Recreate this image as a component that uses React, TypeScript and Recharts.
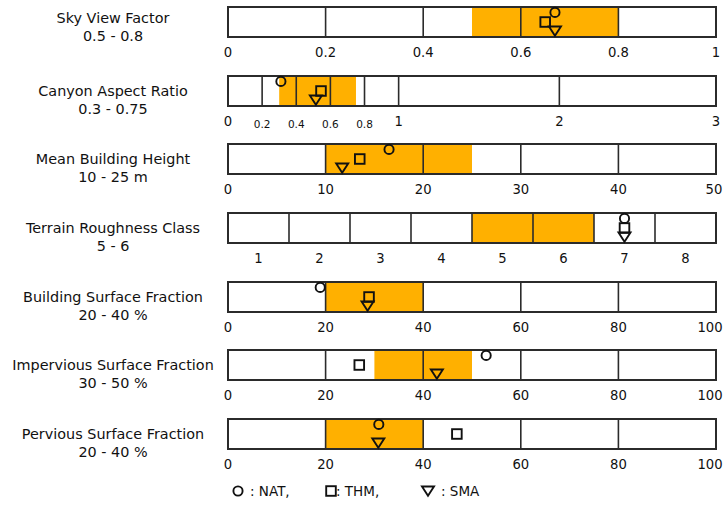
import React from 'react';
import {
  ScatterChart,
  Scatter,
  XAxis,
  YAxis,
  ReferenceArea,
  ReferenceLine,
} from 'recharts';

/**
 * LCZ parameter ranges vs. values of three sites (NAT, THM, SMA)
 */

const ROW_TITLES = [
  'Sky View Factor',
  'Canyon Aspect Ratio',
  'Mean Building Height',
  'Terrain Roughness Class',
  'Building Surface Fraction',
  'Impervious Surface Fraction',
  'Pervious Surface Fraction',
];
const ROW_RANGE_TEXT = ['0.5 - 0.8', '0.3 - 0.75', '10 - 25 m', '5 - 6', '20 - 40 %', '30 - 50 %', '20 - 40 %'];

// orange band = LCZ class range
const BAND_LOW = [0.5, 0.3, 10, 5, 20, 30, 20];
const BAND_HIGH = [0.8, 0.75, 25, 6, 40, 50, 40];

// axis extents and tick labels per row
const X_MIN = [0, 0, 0, 0.5, 0, 0, 0];
const X_MAX = [1, 3, 50, 8.5, 100, 100, 100];
const AXIS_TICKS = [
  [0, 0.2, 0.4, 0.6, 0.8, 1],
  [0, 0.2, 0.4, 0.6, 0.8, 1, 2, 3],
  [0, 10, 20, 30, 40, 50],
  [1, 2, 3, 4, 5, 6, 7, 8],
  [0, 20, 40, 60, 80, 100],
  [0, 20, 40, 60, 80, 100],
  [0, 20, 40, 60, 80, 100],
];

// site values per row
const NAT = [0.67, 0.31, 16.5, 7, 18.9, 52.9, 30.9];
const THM = [0.65, 0.545, 13.5, 7, 28.9, 26.9, 46.9];
const SMA = [0.67, 0.515, 11.7, 7, 28.6, 42.8, 30.8];

const CATEGORICAL_ROW = 3;
const CANYON_ROW = 1;

// canyon axis is piecewise: 0-1 stretched, 1-3 squeezed
const CANYON_IN = [0, 1, 2, 3];
const CANYON_OUT = [0, 1.049, 2.037, 3];

const FRAME = '#2b2b2b';
const BAND = '#FFB000';
const FONT = '"DejaVu Sans", sans-serif';
const ROW_TOP = 7;
const ROW_STEP = 68.67;
// vertical slot of each marker inside its box (0 = bottom, 1 = top)
const MARKER_Y = { NAT: 0.82, THM: 0.5, SMA: 0.2 };

function warpCanyon(v: number) {
  for (let k = 1; k < CANYON_IN.length; k++) {
    if (v <= CANYON_IN[k]) {
      const t = (v - CANYON_IN[k - 1]) / (CANYON_IN[k] - CANYON_IN[k - 1]);
      return CANYON_OUT[k - 1] + t * (CANYON_OUT[k] - CANYON_OUT[k - 1]);
    }
  }
  return CANYON_OUT[CANYON_OUT.length - 1];
}

const identity = (v: number) => v;

const CircleMark = ({ cx, cy }: any) => (
  <circle cx={cx} cy={cy} r={4.6} fill="none" stroke="#111" strokeWidth={1.9} />
);
const SquareMark = ({ cx, cy }: any) => (
  <rect x={cx - 4.8} y={cy - 4.8} width={9.6} height={9.6} fill="none" stroke="#111" strokeWidth={1.9} />
);
const TriangleMark = ({ cx, cy }: any) => (
  <polygon
    points={`${cx - 6},${cy - 4.5} ${cx + 6},${cy - 4.5} ${cx},${cy + 4.8}`}
    fill="none"
    stroke="#111"
    strokeWidth={1.9}
    strokeLinejoin="miter"
  />
);

const AxisTick = ({ x, y, index, row }: any) => {
  const ticks = AXIS_TICKS[row];
  const value = ticks[index];
  if (value === undefined) return null;
  const label = String(value);
  const small = row === CANYON_ROW && !Number.isInteger(value);
  const isLast = index === ticks.length - 1;
  let tx = x;
  if (isLast) {
    const w = label.length * 8;
    tx = Math.min(x, 722 - w / 2);
  }
  return (
    <text
      x={tx}
      y={y + (small ? 18 : 15)}
      textAnchor="middle"
      dominantBaseline="central"
      fontFamily={FONT}
      fontSize={small ? 10.5 : 13.2}
      fill="#111"
    >
      {label}
    </text>
  );
};

const Row = ({ i }: { i: number }) => {
  const warp = i === CANYON_ROW ? warpCanyon : identity;
  const cat = i === CATEGORICAL_ROW;
  const ticks = AXIS_TICKS[i];
  const grid = cat ? ticks.slice(1).map((t) => t - 0.5) : ticks.slice(1, -1);
  const lo = cat ? BAND_LOW[i] - 0.5 : BAND_LOW[i];
  const hi = cat ? BAND_HIGH[i] + 0.5 : BAND_HIGH[i];
  const top = ROW_TOP + i * ROW_STEP - 4;
  const titleShift = i === 0 ? -4 : 0;

  return (
    <div style={{ position: 'absolute', left: 0, top, width: 725, height: 72 }}>
      <div
        style={{
          position: 'absolute',
          left: 0,
          top: 10 + titleShift,
          width: 226,
          textAlign: 'center',
          fontFamily: FONT,
          fontSize: 14.4,
          lineHeight: '18px',
          color: '#111',
        }}
      >
        <div>{ROW_TITLES[i]}</div>
        <div>{ROW_RANGE_TEXT[i]}</div>
      </div>
      <ScatterChart
        width={725}
        height={72}
        margin={{ top: 4, right: 9, bottom: 8, left: 228 }}
        style={{ position: 'absolute', left: 0, top: 0 }}
      >
        <XAxis
          type="number"
          dataKey="x"
          domain={[warp(X_MIN[i]), warp(X_MAX[i])]}
          ticks={ticks.map(warp)}
          interval={0}
          axisLine={false}
          tickLine={false}
          tickSize={0}
          tickMargin={0}
          height={30}
          tick={(props: any) => <AxisTick {...props} row={i} />}
          allowDataOverflow
        />
        <YAxis type="number" dataKey="y" domain={[0, 1]} hide width={0} />
        <ReferenceArea
          x1={warp(lo)}
          x2={warp(hi)}
          y1={0}
          y2={1}
          fill={BAND}
          fillOpacity={1}
          stroke="none"
        />
        {grid.map((g) => (
          <ReferenceLine key={g} x={warp(g)} stroke={FRAME} strokeWidth={1.6} />
        ))}
        <ReferenceArea
          x1={warp(X_MIN[i])}
          x2={warp(X_MAX[i])}
          y1={0}
          y2={1}
          fill="none"
          fillOpacity={0}
          stroke={FRAME}
          strokeWidth={2}
        />
        <Scatter
          name="NAT"
          data={[{ x: warp(NAT[i]), y: MARKER_Y.NAT }]}
          shape={(p: any) => <CircleMark {...p} />}
          isAnimationActive={false}
        />
        <Scatter
          name="THM"
          data={[{ x: warp(THM[i]), y: MARKER_Y.THM }]}
          shape={(p: any) => <SquareMark {...p} />}
          isAnimationActive={false}
        />
        <Scatter
          name="SMA"
          data={[{ x: warp(SMA[i]), y: MARKER_Y.SMA }]}
          shape={(p: any) => <TriangleMark {...p} />}
          isAnimationActive={false}
        />
      </ScatterChart>
    </div>
  );
};

const MarkerLegend = () => (
  <svg
    width={725}
    height={28}
    style={{ position: 'absolute', left: 0, top: 477 }}
    fontFamily={FONT}
    fontSize={13.5}
  >
    <CircleMark cx={238} cy={14} />
    <text x={250} y={14} dominantBaseline="central" fill="#111">: NAT,</text>
    <SquareMark cx={331} cy={14} />
    <text x={336} y={14} dominantBaseline="central" fill="#111">: THM,</text>
    <TriangleMark cx={428} cy={14} />
    <text x={441} y={14} dominantBaseline="central" fill="#111">: SMA</text>
  </svg>
);

export default function App() {
  return (
    <div
      style={{
        position: 'absolute',
        left: 0,
        top: 0,
        width: 725,
        height: 505,
        background: '#fff',
        overflow: 'hidden',
      }}
    >
      {ROW_TITLES.map((_, i) => (
        <Row key={i} i={i} />
      ))}
      <MarkerLegend />
    </div>
  );
}
